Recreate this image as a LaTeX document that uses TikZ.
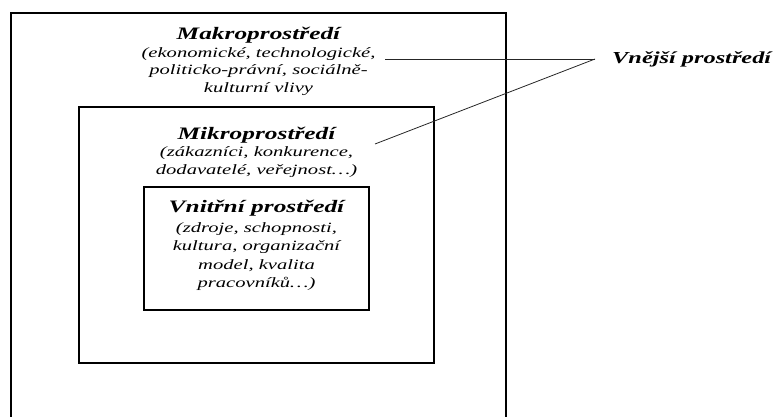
\documentclass[tikz,border=0pt]{standalone}
\usepackage{fontspec}
\setmainfont{Liberation Serif}[FakeStretch=1.45]
\usetikzlibrary{positioning}
\newcommand{\bodyfont}{\itshape\fontsize{14.2}{17.5}\selectfont}
\newcommand{\innerfont}{\itshape\fontsize{14.2}{18.5}\selectfont}
\newcommand{\titlefont}{\bfseries\itshape\fontsize{17.5}{18}\selectfont}
\newcommand{\labelfont}{\bfseries\itshape\fontsize{16.8}{18}\selectfont}
\tikzset{
  % Frame of one layer of the environment
  layer/.style={
    rectangle, draw=black, line width=2pt, inner sep=0pt
  },
  % Text block inside a layer
  layertext/.style={
    inner sep=0pt, align=center, font=\bodyfont
  },
  % Label outside the frames
  outertext/.style={
    inner sep=0pt, font=\labelfont
  },
  % Pointer lines
  pointer/.style={
    line width=0.8pt, color=black!85
  }
}

\begin{document}
\begin{tikzpicture}[x=1pt, y=-1pt]
  \path[use as bounding box, clip] (0,0) rectangle (776,417);

  % ── Layers ────────────────────────────────────────────────────────────────
  \node[layer, minimum width=495pt, minimum height=432pt] (makro) at (258.5,229) {};
  \node[layer, minimum width=355pt, minimum height=256pt] (mikro) at (256.5,235) {};
  \node[layer, minimum width=225pt, minimum height=123pt] (vnitrni) at (256.5,248.5) {};

  % ── Texts of the layers ───────────────────────────────────────────────────
  \node[layertext, below=15pt of makro.north] (makrotext)
        {{\titlefont Makroprostředí}\\
         (ekonomické, technologické,\\
         politicko-právní, sociálně-\\
         kulturní vlivy};
  \node[layertext, below=20.5pt of mikro.north] (mikrotext)
        {{\titlefont Mikroprostředí}\\
         (zákazníci, konkurence,\\
         dodavatelé, veřejnost\dots)};
  \node[layertext, font=\innerfont, below=14pt of vnitrni.north] (vnitrnitext)
        {{\titlefont Vnitřní prostředí}\\[1pt]
         (zdroje, schopnosti,\\
         kultura, organizační\\
         model, kvalita\\
         pracovníků\dots)};

  % ── Outer label with its pointers ─────────────────────────────────────────
  \node[outertext, anchor=west] (vnejsi) at (612,59) {Vnější prostředí};
  \coordinate[left=17pt of vnejsi] (tip);
  \coordinate (makroend) at (385,59);
  \coordinate (mikroend) at (375,144);

  \draw[pointer] (tip) -- (makroend);
  \draw[pointer] (tip) -- (mikroend);

\end{tikzpicture}
\end{document}
